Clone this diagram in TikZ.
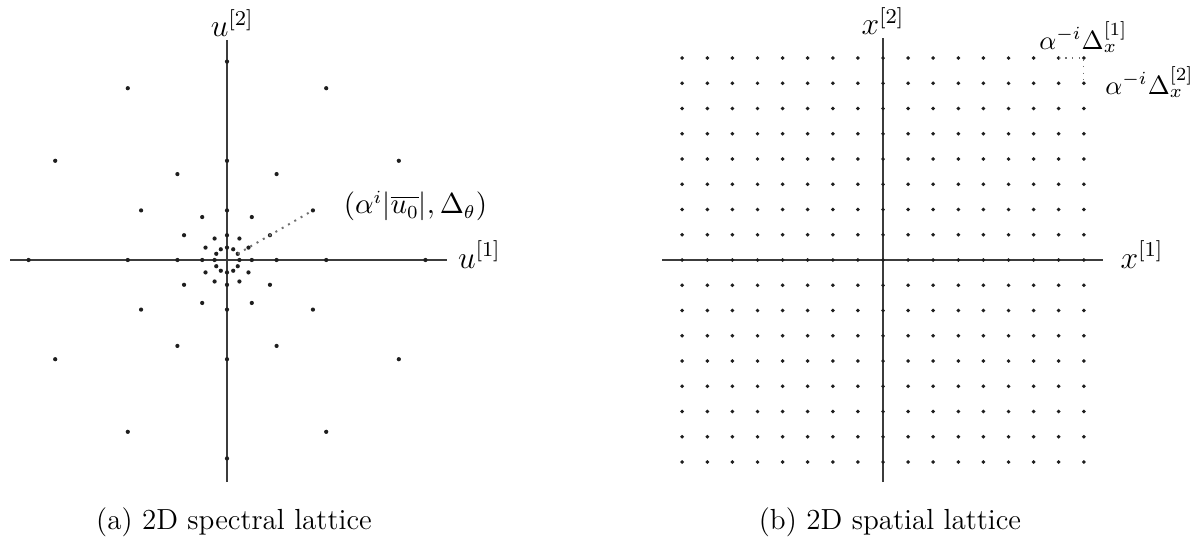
\documentclass[tikz,border=0pt]{standalone}
\usepackage{amsmath,amssymb}
\usetikzlibrary{positioning}
\definecolor{ink}{HTML}{1E1E1E}
\definecolor{axisgray}{HTML}{3C3C3C}
\definecolor{guide}{HTML}{707070}
\tikzset{
  axisline/.style={draw=axisgray, line width=0.7pt},
  hint/.style={draw=guide, dotted, line width=0.75pt},
  axlabel/.style={inner sep=1pt, font=\large},
  note/.style={inner sep=1pt, font=\normalsize},
  capt/.style={inner sep=1pt, font=\fontsize{11}{13}\selectfont}
}

\begin{document}
\begin{tikzpicture}[x=0.0133cm, y=0.0133cm,
    latt/.style={fill=ink}]
    \useasboundingbox (0,0) rectangle (1198,546);

    \begin{scope}[shift={(227,286)}]
      \coordinate (uW) at (-217,0);
      \coordinate (uE) at (220,0);
      \coordinate (uS) at (0,-222);
      \coordinate (uN) at (0,220);
      \draw[axisline] (uW) -- (uE);
      \draw[axisline] (uS) -- (uN);
      \foreach \r in {12.4,24.8,49.6,99.2,198.4}
        \foreach \a in {0,30,...,330}
          \fill[latt] (\a:\r) circle[radius=0.8pt];
      \coordinate (rin) at (30:12.4);
      \coordinate (rout) at (30:99.2);
      \draw[hint] (rin) -- (rout);
      \node[axlabel, right=3pt of uE, yshift=2pt] (u1) {$u^{[1]}$};
      \node[axlabel, above=0pt of uN, xshift=2pt] (u2) {$u^{[2]}$};
      \node[note, font=\fontsize{10.5}{12.5}\selectfont, right=10.5pt of rout, yshift=1.7pt] (ring)
        {$(\alpha^i|\overline{u_0}|,\Delta_\theta)$};
    \end{scope}

    \begin{scope}[shift={(883,286)}]
      \coordinate (xW) at (-221,0);
      \coordinate (xE) at (220,0);
      \coordinate (xS) at (0,-222);
      \coordinate (xN) at (0,222);
      \draw[axisline] (xW) -- (xE);
      \draw[axisline] (xS) -- (xN);
      \foreach \i in {-8,...,8}
        \foreach \j in {-8,...,8}
          \fill[latt] (25.1*\i,25.25*\j) circle[radius=0.75pt];
      \coordinate (c1) at (25.1*7,25.25*8);
      \coordinate (c2) at (25.1*8,25.25*8);
      \coordinate (c3) at (25.1*8,25.25*7);
      \draw[hint, line width=0.5pt] (c1) -- (c2) -- (c3);
      \node[note, above=1pt of c1, anchor=south west, xshift=-8.5pt] (dx1)
        {$\alpha^{-i}\Delta_x^{[1]}$};
      \node[note, right=7pt of c3, yshift=0.5pt] (dx2)
        {$\alpha^{-i}\Delta_x^{[2]}$};
      \node[axlabel, right=5.5pt of xE, yshift=2pt] (x1) {$x^{[1]}$};
      \node[axlabel, above=0pt of xN] (x2) {$x^{[2]}$};
    \end{scope}

    \node[capt] (capa) at (234,24) {(a) 2D spectral lattice};
    \node[capt] (capb) at (890,24) {(b) 2D spatial lattice};
\end{tikzpicture}
\end{document}
